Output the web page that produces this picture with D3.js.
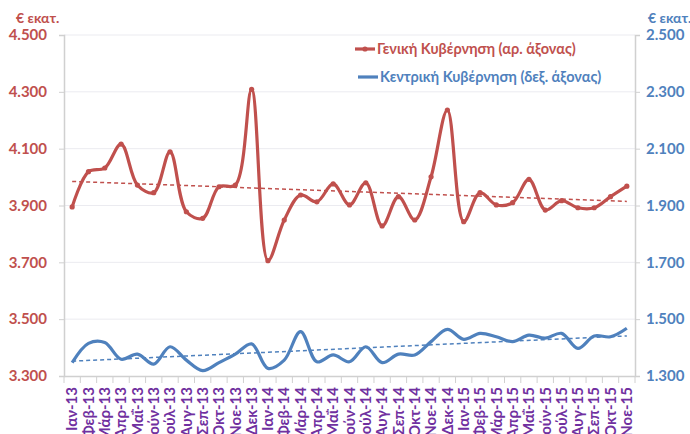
<!DOCTYPE html>
<html>
<head>
<meta charset="utf-8">
<script src="https://cdn.jsdelivr.net/npm/d3@7"></script>
<style>
  body { margin: 0; background: #fff; }
  svg text { font-family: Lato, "Open Sans", sans-serif; font-weight: bold; }
</style>
</head>
<body>
<div id="chart"></div>
<script>
var width = 690;
var height = 434;

var months = ["Ιαν-13", "Φεβ-13", "Μάρ-13", "Απρ-13", "Μαΐ-13", "Ιούν-13", "Ιούλ-13", "Αυγ-13", "Σεπ-13", "Οκτ-13", "Νοε-13", "Δεκ-13",
  "Ιαν-14", "Φεβ-14", "Μάρ-14", "Απρ-14", "Μαΐ-14", "Ιούν-14", "Ιούλ-14", "Αυγ-14", "Σεπ-14", "Οκτ-14", "Νοε-14", "Δεκ-14",
  "Ιαν-15", "Φεβ-15", "Μάρ-15", "Απρ-15", "Μαΐ-15", "Ιούν-15", "Ιούλ-15", "Αυγ-15", "Σεπ-15", "Οκτ-15", "Νοε-15"];

// Γενική Κυβέρνηση, left axis
var general = [3895, 4019, 4032, 4116, 3972, 3945, 4089, 3878, 3855, 3966, 3972, 4309,
  3706, 3849, 3937, 3913, 3976, 3902, 3980, 3828, 3931, 3849, 4001, 4236,
  3843, 3945, 3902, 3910, 3992, 3884, 3917, 3892, 3892, 3931, 3968];

// Κεντρική Κυβέρνηση, right axis
var central = [1347, 1415, 1418, 1359, 1377, 1342, 1403, 1356, 1319, 1347, 1377, 1413,
  1327, 1356, 1456, 1350, 1374, 1350, 1403, 1347, 1377, 1374, 1421, 1464,
  1429, 1450, 1438, 1421, 1444, 1433, 1450, 1397, 1441, 1438, 1468];

var leftTicks = [3300, 3500, 3700, 3900, 4100, 4300, 4500];
var rightTicks = [1300, 1500, 1700, 1900, 2100, 2300, 2500];

var red = "#C0504D";
var blue = "#4F81BD";
var purple = "#7030A0";

var pLeft = 64, pRight = 635, pTop = 35, pBottom = 376;

var svg = d3.select("#chart").
append("svg").
attr("width", width).
attr("height", height);

var x = d3.scaleBand().domain(months).range([pLeft, pRight]);
var yL = d3.scaleLinear().domain([3300, 4500]).range([pBottom, pTop]);
var yR = d3.scaleLinear().domain([1300, 2500]).range([pBottom, pTop]);
var cx = function (d, i) {return x(months[i]) + x.bandwidth() / 2;};

var fmt = function (d) {return d3.format(",")(d).replace(",", ".");};

// gridlines
svg.append("g").
selectAll("line").
data(leftTicks.slice(1)).
enter().
append("line").
attr("x1", pLeft).
attr("x2", pRight).
attr("y1", function (d) {return yL(d);}).
attr("y2", function (d) {return yL(d);}).
attr("stroke", "#EBEBF0").
attr("stroke-width", 1);

// left axis
var axL = svg.append("g").
attr("transform", "translate(" + pLeft + ",0)").
call(d3.axisLeft(yL).tickValues(leftTicks).tickFormat(fmt).tickSize(5).tickPadding(12));
axL.selectAll("text").attr("fill", red).style("font-size", "15px");

// right axis
var axR = svg.append("g").
attr("transform", "translate(" + pRight + ",0)").
call(d3.axisRight(yR).tickValues(rightTicks).tickFormat(fmt).tickSize(5).tickPadding(6));
axR.selectAll("text").attr("fill", blue).style("font-size", "15px");

[axL, axR].forEach(function (a) {
  a.select(".domain").attr("stroke", "#D0D0D0").attr("stroke-width", 1.5);
  a.selectAll(".tick line").attr("stroke", "#D0D0D0");
});

// bottom axis
var axB = svg.append("g").
attr("transform", "translate(0," + pBottom + ")").
call(d3.axisBottom(x).tickSize(0).tickPadding(0));
axB.select(".domain").attr("stroke", "#D0D0D0").attr("stroke-width", 1.5);
axB.selectAll(".tick text").
attr("fill", purple).
style("font-size", "15px").
attr("text-anchor", "end").
attr("transform", "translate(0,11) rotate(-90)").
attr("dx", 0).
attr("dy", "0.35em").
attr("x", 0).
attr("y", 0);

var bounds = months.map(function (m) {return x(m);}).concat([pRight]);
axB.selectAll(".bt").
data(bounds).
enter().
append("line").
attr("class", "bt").
attr("x1", function (d) {return d;}).
attr("x2", function (d) {return d;}).
attr("y1", 0).
attr("y2", 7).
attr("stroke", "#D0D0D0");

// trend lines from least squares
function trend(vals) {
  var n = vals.length;
  var mx = d3.mean(vals, function (d, i) {return i;});
  var my = d3.mean(vals);
  var sxy = d3.sum(vals, function (d, i) {return (i - mx) * (d - my);});
  var sxx = d3.sum(vals, function (d, i) {return (i - mx) * (i - mx);});
  var b = sxy / sxx;
  return [my - b * mx, my + b * (n - 1 - mx)];
}

var tG = trend(general);
var tC = trend(central);

svg.append("line").
attr("x1", cx(0, 0)).attr("x2", cx(0, months.length - 1)).
attr("y1", yL(tG[0])).attr("y2", yL(tG[1])).
attr("stroke", red).attr("stroke-width", 1.5).attr("stroke-dasharray", "4,3");

svg.append("line").
attr("x1", cx(0, 0)).attr("x2", cx(0, months.length - 1)).
attr("y1", yR(tC[0])).attr("y2", yR(tC[1])).
attr("stroke", blue).attr("stroke-width", 1.5).attr("stroke-dasharray", "4,3");

// series
var lineG = d3.line().x(cx).y(function (d) {return yL(d);}).curve(d3.curveCatmullRom.alpha(0.5));
var lineC = d3.line().x(cx).y(function (d) {return yR(d);}).curve(d3.curveCatmullRom.alpha(0.5));

svg.append("path").
datum(central).
attr("d", lineC).
attr("fill", "none").
attr("stroke", blue).
attr("stroke-width", 3.2).
attr("stroke-linejoin", "round");

svg.append("path").
datum(general).
attr("d", lineG).
attr("fill", "none").
attr("stroke", red).
attr("stroke-width", 3.2).
attr("stroke-linejoin", "round");

svg.append("g").
selectAll("circle").
data(general).
enter().
append("circle").
attr("cx", cx).
attr("cy", function (d) {return yL(d);}).
attr("r", 2.6).
attr("fill", red);

// unit labels
svg.append("text").attr("x", 16).attr("y", 23).attr("fill", red).style("font-size", "14px").text("€ εκατ.");
svg.append("text").attr("x", 648).attr("y", 23).attr("fill", blue).style("font-size", "14px").text("€ εκατ.");

// legend
var legend = [
  { name: "Γενική Κυβέρνηση (αρ. άξονας)", color: red, x: 355, y: 49, marker: true },
  { name: "Κεντρική Κυβέρνηση (δεξ. άξονας)", color: blue, x: 358, y: 77, marker: false }];

var lg = svg.append("g").
selectAll("g").
data(legend).
enter().
append("g").
attr("transform", function (d) {return "translate(" + d.x + "," + d.y + ")";});

lg.append("line").
attr("x1", 0).attr("x2", 20).
attr("stroke", function (d) {return d.color;}).
attr("stroke-width", 3.2);

lg.filter(function (d) {return d.marker;}).
append("circle").
attr("cx", 10).attr("r", 2.6).
attr("fill", function (d) {return d.color;});

lg.append("text").
attr("x", 22).
attr("dy", "0.35em").
attr("fill", function (d) {return d.color;}).
style("font-size", "14.5px").
text(function (d) {return d.name;});
</script>
</body>
</html>
